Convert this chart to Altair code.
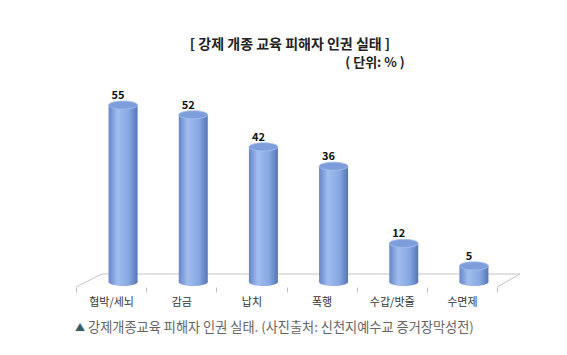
import altair as alt
import pandas as pd

categories = ["협박/세뇌", "감금", "납치", "폭행", "수갑/밧줄", "수면제"]
values = [55, 52, 42, 36, 12, 5]
title_text = "[ 강제 개종 교육 피해자 인권 실태 ]"
unit_text = "( 단위: % )"
caption_mark = "▲"
caption_text = "강제개종교육 피해자 인권 실태. (사진출처: 신천지예수교 증거장막성전)"

df = pd.DataFrame({"cat": categories, "val": values, "zero": [0] * len(values)})
one = pd.DataFrame({"k": [0]})

FONT = "Noto Sans CJK KR"
W, H = 421, 193

body = alt.Gradient(
    gradient="linear", x1=0, x2=1, y1=0, y2=0,
    stops=[
        alt.GradientStop(offset=0, color="#6585c6"),
        alt.GradientStop(offset=0.3, color="#a0bdee"),
        alt.GradientStop(offset=0.7, color="#87a7e1"),
        alt.GradientStop(offset=1, color="#5474b8"),
    ],
)
ellipse = "M-1,0A1,0.28,0,1,1,1,0A1,0.28,0,1,1,-1,0Z"
BW = 29
OFF = 12

xenc = alt.X(
    "cat:N", sort=categories, title=None,
    scale=alt.Scale(paddingInner=0, paddingOuter=0),
    axis=alt.Axis(
        labelAngle=0, tickBand="extent", domain=False, ticks=True,
        tickColor="#bdbdbd", tickSize=5, offset=5, labelPadding=4,
        labelFont=FONT, labelFontSize=11, labelColor="#333333",
    ),
)
yscale = alt.Scale(domain=[0, 60])
yenc = alt.Y("val:Q", scale=yscale, axis=None)

base = alt.Chart(df).encode(x=xenc)

line_col = "#c4c4c4"
floor_back = alt.Chart(one).mark_rule(color=line_col, strokeWidth=1).encode(
    x=alt.value(26), x2=alt.value(444), y=alt.value(185), y2=alt.value(185))
floor_left = alt.Chart(one).mark_rule(color=line_col, strokeWidth=1).encode(
    x=alt.value(0), x2=alt.value(26), y=alt.value(198), y2=alt.value(185))
floor_right = alt.Chart(one).mark_rule(color=line_col, strokeWidth=1).encode(
    x=alt.value(421), x2=alt.value(444), y=alt.value(198), y2=alt.value(185))

bottom = base.mark_point(
    shape=ellipse, size=BW * BW, filled=True, fill=body, opacity=1,
    strokeWidth=0, xOffset=OFF,
).encode(y=alt.Y("zero:Q", scale=yscale, axis=None))

bars = base.mark_bar(size=BW, fill=body, xOffset=OFF).encode(y=yenc)

top = base.mark_point(
    shape=ellipse, size=BW * BW, filled=True, fill="#7e9edb", opacity=1,
    stroke="#a4bfec", strokeWidth=0.8, xOffset=OFF,
).encode(y=yenc)

labels = base.mark_text(
    baseline="bottom", dy=-4, xOffset=7, font=FONT, fontSize=11,
    fontWeight="bold", color="#111111",
).encode(y=yenc, text=alt.Text("val:Q"))

title = alt.Chart(one).mark_text(
    font=FONT, fontSize=14, fontWeight="bold", color="#222222",
    align="center", baseline="middle",
).encode(x=alt.value(214), y=alt.value(-44), text=alt.value(title_text))

unit = alt.Chart(one).mark_text(
    font=FONT, fontSize=13, fontWeight="bold", color="#222222",
    align="center", baseline="middle",
).encode(x=alt.value(299), y=alt.value(-26), text=alt.value(unit_text))

cap_mark = alt.Chart(one).mark_text(
    font=FONT, fontSize=10, color="#2f6070", align="left", baseline="middle",
).encode(x=alt.value(-1), y=alt.value(239), text=alt.value(caption_mark))

cap = alt.Chart(one).mark_text(
    font=FONT, fontSize=13.2, color="#666666", align="left", baseline="middle",
).encode(x=alt.value(12), y=alt.value(239), text=alt.value(caption_text))

chart = alt.layer(
    floor_back, floor_left, floor_right, bottom, bars, top, labels,
    title, unit, cap_mark, cap,
).properties(
    width=W, height=H,
    padding={"left": 76, "top": 89, "right": 70, "bottom": 73},
    autosize=alt.AutoSizeParams(type="none"),
    background="white",
).configure_view(stroke=None)

chart.save("out.html", embed_options={"renderer": "svg", "actions": False})
